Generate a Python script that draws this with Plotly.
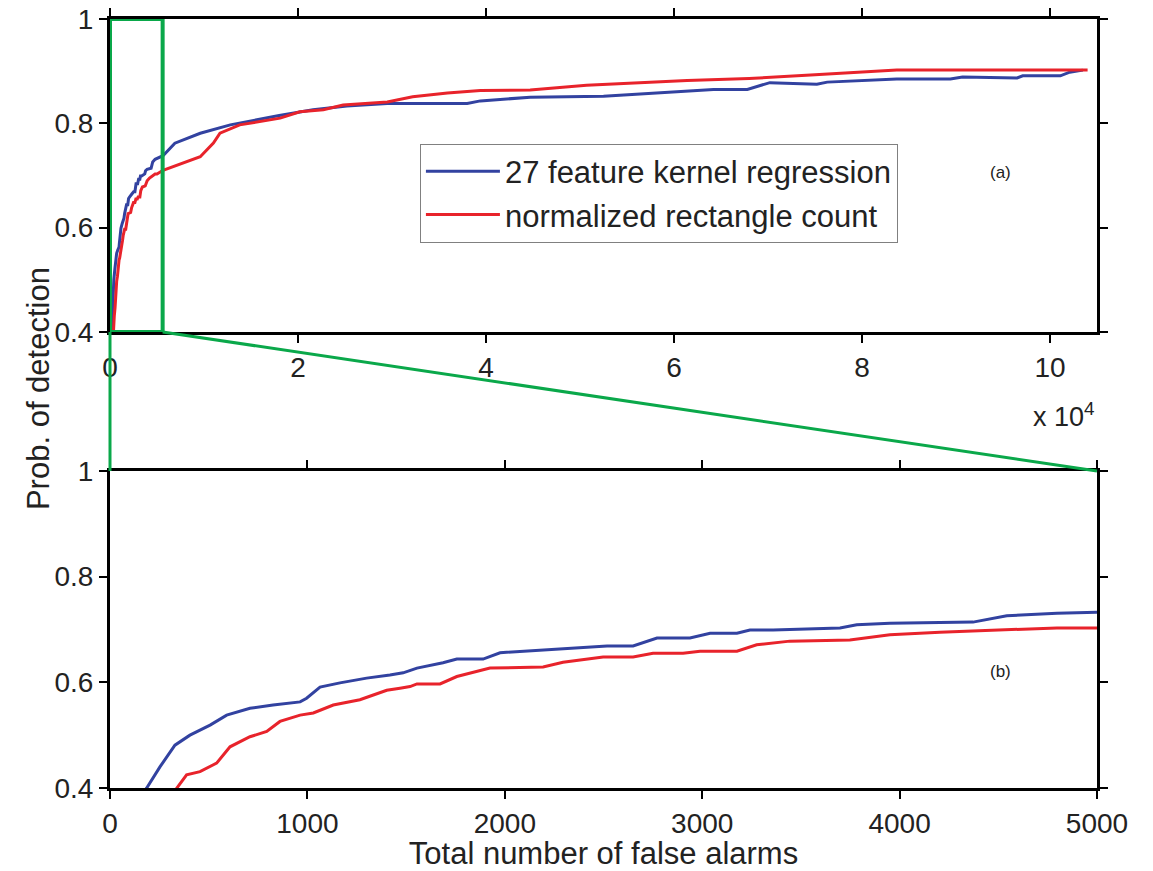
import plotly.graph_objects as go

# ---- data (false alarms, probability of detection) ----
blue_name = "27 feature kernel regression"
blue_x = [120, 186, 253, 329, 405, 507, 591, 709, 826, 963, 996, 1064, 1165, 1300, 1418, 1485, 1555,
          1687, 1757, 1890, 1976, 2093, 2214, 2346, 2518, 2650, 2771, 2938, 3040, 3176, 3242, 3359,
          3698, 3783, 3951, 4372, 4458, 4543, 4797, 5000, 5640, 6900, 9600, 12800, 18000, 21600,
          25200, 29500, 38000, 39400, 44700, 52500, 61400, 64200, 67800, 70200, 75200, 76300,
          83700, 89400, 90700, 96500, 97100, 101100, 102100, 103500]
blue_y = [0.37, 0.40, 0.44, 0.481, 0.50, 0.519, 0.538, 0.551, 0.557, 0.563, 0.57, 0.591, 0.599,
          0.608, 0.614, 0.618, 0.627, 0.637, 0.644, 0.644, 0.656, 0.659, 0.661, 0.665, 0.669, 0.669,
          0.684, 0.684, 0.693, 0.693, 0.699, 0.699, 0.703, 0.709, 0.712, 0.714, 0.72, 0.726, 0.731,
          0.733, 0.738, 0.762, 0.781, 0.797, 0.815, 0.826, 0.833, 0.838, 0.838, 0.843, 0.85, 0.852,
          0.861, 0.865, 0.865, 0.878, 0.875, 0.879, 0.885, 0.885, 0.889, 0.887, 0.891, 0.891, 0.898,
          0.902]

red_name = "normalized rectangle count"
red_x = [280, 338, 388, 456, 540, 608, 709, 794, 861, 963, 1030, 1131, 1266, 1334, 1402, 1469, 1520,
         1555, 1672, 1757, 1925, 2194, 2295, 2498, 2650, 2751, 2903, 2989, 3176, 3276, 3444, 3748,
         3951, 4204, 4543, 4797, 5000, 5640, 9600, 11000, 11700, 13800, 18100, 20200, 22700, 24800,
         29500, 32200, 35900, 39400, 44700, 50700, 61400, 68000, 75000, 83700, 104000]
red_y = [0.37, 0.40, 0.425, 0.431, 0.447, 0.478, 0.497, 0.507, 0.526, 0.538, 0.542, 0.557, 0.567,
         0.576, 0.585, 0.589, 0.592, 0.597, 0.597, 0.611, 0.627, 0.629, 0.638, 0.648, 0.648, 0.655,
         0.655, 0.659, 0.659, 0.671, 0.678, 0.68, 0.69, 0.695, 0.699, 0.703, 0.703, 0.71, 0.736,
         0.762, 0.781, 0.797, 0.81, 0.822, 0.826, 0.835, 0.841, 0.851, 0.858, 0.863, 0.864, 0.873,
         0.882, 0.886, 0.893, 0.902, 0.902]

top_xticks = [0, 20000, 40000, 60000, 80000, 100000]
top_xtick_text = ["0", "2", "4", "6", "8", "10"]
bottom_xticks = [0, 1000, 2000, 3000, 4000, 5000]
y_ticks = [0.4, 0.6, 0.8, 1.0]
y_tick_text = ["0.4", "0.6", "0.8", "1"]

BLUE = "#3242a0"
RED = "#e8232b"
GREEN = "#0aa84a"
FONT = "Arial, Liberation Sans, sans-serif"
TXT = "#222"

fig = go.Figure()
for xs, ys, name, col in [(blue_x, blue_y, blue_name, BLUE), (red_x, red_y, red_name, RED)]:
    fig.add_trace(go.Scatter(x=xs, y=ys, mode="lines", name=name, line=dict(color=col, width=3),
                             xaxis="x", yaxis="y", showlegend=True))
    fig.add_trace(go.Scatter(x=xs, y=ys, mode="lines", name=name, line=dict(color=col, width=3),
                             xaxis="x2", yaxis="y2", showlegend=False))

axis_common = dict(showline=True, linecolor="black", linewidth=3, mirror="ticks", ticks="outside",
                   ticklen=8, tickwidth=2, tickcolor="black", showgrid=False, zeroline=False,
                   automargin=False, tickfont=dict(family=FONT, size=28, color=TXT))

TOP_DOM = [0.593, 1.0]
BOT_DOM = [0.0, 0.4122]
XMAX = 105000

fig.update_layout(
    width=1153, height=871,
    margin=dict(l=110, r=56, t=19, b=83),
    paper_bgcolor="white", plot_bgcolor="white",
    font=dict(family=FONT, size=28, color=TXT),
    xaxis=dict(domain=[0, 1], anchor="y", range=[0, XMAX], tickvals=top_xticks,
               ticktext=top_xtick_text, **axis_common),
    yaxis=dict(domain=TOP_DOM, anchor="x", range=[0.4, 1.0], tickvals=y_ticks,
               ticktext=y_tick_text, **axis_common),
    xaxis2=dict(domain=[0, 1], anchor="y2", range=[0, 5000], tickvals=bottom_xticks,
                title=dict(text="Total number of false alarms",
                           font=dict(family=FONT, size=31, color=TXT), standoff=6),
                **axis_common),
    yaxis2=dict(domain=BOT_DOM, anchor="x2", range=[0.4, 1.0], tickvals=y_ticks,
                ticktext=y_tick_text, **axis_common),
    legend=dict(x=0.314, y=0.838, xanchor="left", yanchor="top", bgcolor="white",
                bordercolor="#808080", borderwidth=1, font=dict(family=FONT, size=31, color=TXT),
                tracegroupgap=0, itemwidth=74),
    showlegend=True,
)

# zoom box and connector lines
box_x1 = 5600
fig.add_shape(type="rect", xref="x", yref="y", x0=0, x1=box_x1, y0=0.4, y1=1.0,
              line=dict(color=GREEN, width=4))
fig.add_shape(type="line", xref="paper", yref="paper", x0=box_x1 / XMAX, y0=TOP_DOM[0],
              x1=1.0, y1=BOT_DOM[1], line=dict(color=GREEN, width=3))
fig.add_shape(type="line", xref="paper", yref="paper", x0=0, y0=TOP_DOM[0],
              x1=0, y1=BOT_DOM[1], line=dict(color=GREEN, width=3))

fig.add_annotation(text="x 10<sup>4</sup>", xref="paper", yref="paper", x=0.967, y=0.485,
                   xanchor="center", yanchor="middle", showarrow=False,
                   font=dict(family=FONT, size=27, color=TXT))
fig.add_annotation(text="Prob. of detection", xref="paper", yref="paper", x=-0.073, y=0.52,
                   xanchor="center", yanchor="middle", textangle=-90, showarrow=False,
                   font=dict(family=FONT, size=31, color=TXT))
fig.add_annotation(text="(a)", xref="paper", yref="paper", x=0.902, y=0.801, xanchor="center",
                   yanchor="middle", showarrow=False, font=dict(family=FONT, size=17, color=TXT))
fig.add_annotation(text="(b)", xref="paper", yref="paper", x=0.902, y=0.151, xanchor="center",
                   yanchor="middle", showarrow=False, font=dict(family=FONT, size=17, color=TXT))

fig.write_html("out.html")
